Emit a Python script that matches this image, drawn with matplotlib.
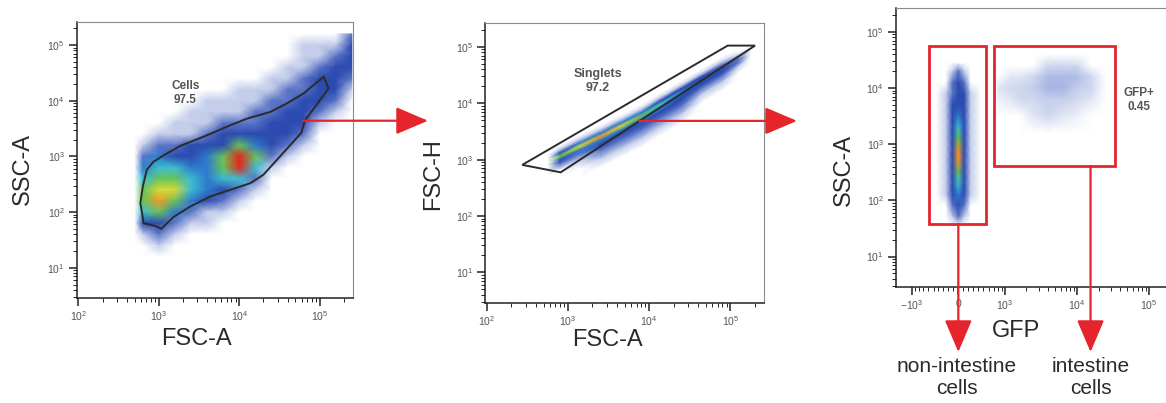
import numpy as np
import matplotlib.pyplot as plt
from matplotlib.colors import LinearSegmentedColormap
from matplotlib.patches import Polygon, Rectangle, ConnectionPatch
from matplotlib.transforms import blended_transform_factory

plt.rcParams['font.family'] = ['Liberation Sans', 'DejaVu Sans']
plt.rcParams['mathtext.fontset'] = 'custom'
plt.rcParams['mathtext.rm'] = 'Liberation Sans'
plt.rcParams['mathtext.it'] = 'Liberation Sans:italic'
plt.rcParams['mathtext.bf'] = 'Liberation Sans:bold'

# ---------------- data ----------------
# density levels: 0 = no events ... 9 = densest (red)

# panel 1: FSC-A (x) vs SSC-A (y), grid in log10 units
cells_logx = [2.7, 2.8, 3.0, 3.2, 3.4, 3.6, 3.8, 4.0, 4.2, 4.4, 4.6, 4.8, 5.0, 5.2, 5.4]
cells_logy = [5.2, 5.0, 4.8, 4.6, 4.4, 4.2, 4.0, 3.8, 3.6, 3.4, 3.2, 3.0, 2.8, 2.6,
              2.4, 2.2, 2.0, 1.8, 1.6, 1.4, 1.2]
cells_density = [
    [0, 0, 0, 0, 0, 0, 0, 0, 0, 0, 0, 0, 0, 0, 2],
    [0, 0, 0, 0, 0, 0, 0, 0, 0, 0, 0, 1, 1, 1, 3],
    [0, 0, 0, 0, 0, 0, 0, 0, 0, 0, 0, 1, 1, 2, 3],
    [0, 0, 0, 0, 0, 0, 0, 0, 0, 0, 1, 1, 2, 3, 3],
    [0, 0, 0, 0, 0, 0, 0, 0, 0, 1, 1, 2, 3, 3, 2],
    [0, 0, 0, 0, 0, 0, 0, 1, 1, 1, 2, 2, 3, 3, 1],
    [0, 0, 0, 0, 0, 1, 1, 1, 1, 2, 2, 3, 3, 2, 0],
    [0, 0, 0, 0, 1, 1, 1, 1, 2, 2, 3, 3, 2, 1, 0],
    [0, 0, 0, 1, 1, 1, 2, 2, 2, 3, 3, 3, 1, 0, 0],
    [0, 0, 1, 1, 1, 2, 3, 3, 3, 3, 3, 2, 0, 0, 0],
    [0, 1, 2, 2, 3, 3, 3, 6, 4, 3, 2, 1, 0, 0, 0],
    [0, 2, 4, 3, 3, 4, 6, 9, 6, 2, 1, 0, 0, 0, 0],
    [0, 4, 5, 5, 4, 4, 6, 9, 5, 1, 0, 0, 0, 0, 0],
    [0, 5, 6, 6, 5, 4, 5, 5, 2, 0, 0, 0, 0, 0, 0],
    [0, 6, 7, 7, 5, 4, 3, 2, 1, 0, 0, 0, 0, 0, 0],
    [0, 6, 8, 6, 4, 3, 2, 1, 0, 0, 0, 0, 0, 0, 0],
    [0, 5, 6, 4, 2, 1, 1, 0, 0, 0, 0, 0, 0, 0, 0],
    [0, 3, 3, 2, 1, 1, 0, 0, 0, 0, 0, 0, 0, 0, 0],
    [0, 1, 2, 1, 0, 0, 0, 0, 0, 0, 0, 0, 0, 0, 0],
    [0, 0, 1, 0, 0, 0, 0, 0, 0, 0, 0, 0, 0, 0, 0],
    [0, 0, 0, 0, 0, 0, 0, 0, 0, 0, 0, 0, 0, 0, 0],
]
cells_gate_logx = [5.05, 5.11, 4.82, 4.77, 4.52, 4.30, 4.14, 3.91, 3.64, 3.39, 3.18,
                   3.03, 2.96, 2.81, 2.77, 2.80, 2.85, 2.93, 3.06, 3.27, 3.60, 3.89,
                   4.10, 4.39, 4.59, 4.80]
cells_gate_logy = [4.43, 4.22, 3.65, 3.42, 3.02, 2.67, 2.52, 2.41, 2.28, 2.10, 1.91,
                   1.70, 1.75, 1.80, 2.16, 2.46, 2.76, 2.90, 3.02, 3.19, 3.38, 3.56,
                   3.68, 3.80, 3.95, 4.13]
cells_label = 'Cells\n97.5'
cells_label_pos = (2130, 13800)

# panel 2: FSC-A (x) vs FSC-H (y); density along the diagonal ridge
singlets_along_logx = [2.75, 2.9, 3.15, 3.4, 3.65, 3.9, 4.15, 4.4, 4.65, 4.9, 5.1, 5.25]
singlets_ridge_logy = [2.96, 3.06, 3.24, 3.41, 3.59, 3.77, 3.99, 4.20, 4.41, 4.62, 4.79, 4.92]
singlets_offset = [0.2, 0.12, 0.06, 0.0, -0.07, -0.14, -0.25, -0.4, -0.55]
singlets_density = [
    [0, 0, 0, 0, 0, 0, 0, 0, 0, 0, 0, 0],
    [0, 1, 1, 1, 1, 1, 1, 1, 1, 1, 0, 0],
    [0, 3, 4, 4, 4, 4, 3, 3, 3, 2, 1, 0],
    [0, 6, 7, 8, 7, 6, 5, 4, 3, 3, 2, 0],
    [0, 3, 4, 4, 4, 4, 4, 3, 3, 3, 2, 0],
    [0, 2, 2, 3, 3, 3, 3, 3, 2, 2, 1, 0],
    [0, 0, 1, 2, 2, 2, 2, 2, 1, 1, 0, 0],
    [0, 0, 0, 1, 1, 1, 1, 1, 0, 0, 0, 0],
    [0, 0, 0, 0, 0, 0, 0, 0, 0, 0, 0, 0],
]
singlets_gate_logx = [2.437, 2.910, 5.305, 4.968]
singlets_gate_logy = [2.907, 2.775, 5.023, 5.023]
singlets_label = 'Singlets\n97.2'
singlets_label_pos = (2330, 24700)

# panel 3: GFP (x, biexponential) vs SSC-A (y)
gfpneg_x = [-800, -450, -250, -120, 0, 120, 250, 450, 800]
gfpneg_logy = [4.45, 4.3, 4.1, 3.9, 3.7, 3.5, 3.3, 3.1, 2.9, 2.7, 2.5, 2.3, 2.1,
               1.9, 1.7, 1.55]
gfpneg_density = [
    [0, 0, 0, 0, 0, 0, 0, 0, 0],
    [0, 0, 0, 1, 2, 1, 0, 0, 0],
    [0, 0, 0, 2, 3, 2, 0, 0, 0],
    [0, 0, 1, 2, 3, 3, 1, 0, 0],
    [0, 0, 1, 3, 3, 3, 1, 0, 0],
    [0, 0, 1, 3, 4, 3, 1, 0, 0],
    [0, 0, 1, 3, 5, 3, 1, 0, 0],
    [0, 0, 1, 3, 6, 3, 1, 0, 0],
    [0, 0, 1, 3, 8, 3, 1, 0, 0],
    [0, 0, 1, 3, 8, 3, 1, 0, 0],
    [0, 0, 1, 3, 6, 3, 1, 0, 0],
    [0, 0, 1, 3, 5, 3, 1, 0, 0],
    [0, 0, 1, 3, 4, 3, 1, 0, 0],
    [0, 0, 0, 2, 3, 2, 0, 0, 0],
    [0, 0, 0, 1, 2, 1, 0, 0, 0],
    [0, 0, 0, 0, 0, 0, 0, 0, 0],
]
gfppos_x = [800, 1200, 1600, 2500, 4000, 6300, 10000, 16000, 25000]
gfppos_logy = [4.6, 4.4, 4.2, 4.0, 3.8, 3.5, 3.2]
gfppos_density = [
    [0, 0, 0, 0, 0, 0, 0, 0, 0],
    [0, 0, 0, 0, 0.8, 0.8, 0.8, 0, 0],
    [0, 0.5, 0.5, 0.8, 1.2, 1.2, 1.2, 0.8, 0],
    [0.5, 0.8, 0.8, 1.0, 1.3, 1.3, 1.0, 0.8, 0],
    [0.3, 0.5, 0.8, 0.8, 1.0, 1.0, 0.8, 0.5, 0],
    [0, 0, 0, 0.5, 0.8, 0.5, 0.3, 0, 0],
    [0, 0, 0, 0, 0, 0, 0, 0, 0],
]
neg_gate = (-577, 37.8, 548, 54800)     # x0, y0, x1, y1
pos_gate = (708, 409, 34300, 54800)
gfp_label = 'GFP+\n0.45'
gfp_label_pos = (73100, 6100)

log_ticks = [10, 100, 1000, 10000, 100000]
log_ticklabels = [r'$\mathregular{10^{%d}}$' % k for k in range(1, 6)]
gfp_ticks = [-1000, 0, 1000, 10000, 100000]
gfp_ticklabels = [r'$\mathregular{-10^{3}}$', '0', r'$\mathregular{10^{3}}$',
                  r'$\mathregular{10^{4}}$', r'$\mathregular{10^{5}}$']

# ---------------- drawing ----------------
flow_cmap = LinearSegmentedColormap.from_list('flowjo', [
    (0.0, '#ffffff'), (1 / 9, '#c3cdeb'), (2 / 9, '#5a73c6'), (3 / 9, '#2c4bb0'),
    (4 / 9, '#2e7ccc'), (5 / 9, '#3cbdd3'), (6 / 9, '#68c35a'), (7 / 9, '#d6dc36'),
    (8 / 9, '#f39a26'), (1.0, '#e3261b')])

W, H = 1166, 403
fig = plt.figure(figsize=(W / 100, H / 100), dpi=100)


def box(l, t, r, b):
    return [l / W, 1 - b / H, (r - l) / W, (b - t) / H]


def style(ax):
    ax.set_yscale('log')
    ax.set_ylim(2.9, 262144)
    ax.set_yticks(log_ticks, labels=log_ticklabels)
    ax.set_yticks([k * 10 ** n for n in range(0, 6) for k in range(2, 10)
                   if 2.9 < k * 10 ** n < 262144], minor=True)
    ax.tick_params(which='major', direction='out', length=5.5, width=1.1, color='#222222',
                   labelsize=7.5, labelcolor='#555555', pad=3)
    ax.tick_params(which='minor', direction='out', length=3, width=0.7, color='#222222')
    for s in ['top', 'right']:
        ax.spines[s].set_color('#8a8a8a')
        ax.spines[s].set_linewidth(0.8)
    for s in ['left', 'bottom']:
        ax.spines[s].set_color('#222222')
        ax.spines[s].set_linewidth(1.1)


def log_xaxis(ax):
    ax.set_xscale('log')
    ax.set_xlim(95, 262144)
    ax.set_xticks(log_ticks[1:], labels=log_ticklabels[1:])
    ax.set_xticks([k * 10 ** n for n in range(1, 6) for k in range(2, 10)
                   if 95 < k * 10 ** n < 262144], minor=True)


def density(ax, X, Y, C):
    ax.pcolormesh(X, Y, np.array(C, float), shading='gouraud', cmap=flow_cmap,
                  vmin=0, vmax=9, zorder=1, antialiased=False)


gate_kw = dict(fill=False, edgecolor='#2b2b2b', lw=1.4, zorder=3)
red = '#e5242b'

# panel 1
ax1 = fig.add_axes(box(76.7, 21.7, 353.3, 297.7))
X, Y = np.meshgrid(10 ** np.array(cells_logx), 10 ** np.array(cells_logy))
density(ax1, X, Y, cells_density)
ax1.add_patch(Polygon(np.column_stack([10 ** np.array(cells_gate_logx),
                                       10 ** np.array(cells_gate_logy)]), closed=True, **gate_kw))
ax1.text(*cells_label_pos, cells_label, ha='center', va='center', fontsize=8.5,
         fontweight='bold', color='#555555', linespacing=1.15, zorder=4)
log_xaxis(ax1)
style(ax1)

# panel 2
ax2 = fig.add_axes(box(485, 23.3, 764.3, 302.7))
along = np.array(singlets_along_logx)
ridge = np.array(singlets_ridge_logy)
offs = np.array(singlets_offset)
X2 = 10 ** np.tile(along, (len(offs), 1))
Y2 = 10 ** (ridge[None, :] + offs[:, None])
density(ax2, X2, Y2, singlets_density)
ax2.add_patch(Polygon(np.column_stack([10 ** np.array(singlets_gate_logx),
                                       10 ** np.array(singlets_gate_logy)]), closed=True, **gate_kw))
ax2.text(*singlets_label_pos, singlets_label, ha='center', va='center', fontsize=9,
         fontweight='bold', color='#555555', linespacing=1.15, zorder=4)
log_xaxis(ax2)
style(ax2)

# panel 3
ax3 = fig.add_axes(box(895.7, 8.3, 1179, 286.7))
ax3.set_xscale('symlog', linthresh=500, linscale=0.31)
X3, Y3 = np.meshgrid(np.array(gfpneg_x, float), 10 ** np.array(gfpneg_logy))
density(ax3, X3, Y3, gfpneg_density)
X4, Y4 = np.meshgrid(np.array(gfppos_x, float), 10 ** np.array(gfppos_logy))
density(ax3, X4, Y4, gfppos_density)
for g in [neg_gate, pos_gate]:
    ax3.add_patch(Rectangle((g[0], g[1]), g[2] - g[0], g[3] - g[1], fill=False,
                            edgecolor=red, lw=2.0, zorder=3))
ax3.text(*gfp_label_pos, gfp_label, ha='center', va='center', fontsize=8.5,
         fontweight='bold', color='#555555', linespacing=1.15, zorder=4)
ax3.set_xlim(-1675, 262144)
ax3.set_xticks(gfp_ticks, labels=gfp_ticklabels)
ax3.set_xticks([-k * 100 for k in range(1, 10)] + [k * 100 for k in range(1, 10)] +
               [k * 10 ** n for n in range(3, 6) for k in range(2, 10) if k * 10 ** n < 262144],
               minor=True)
style(ax3)

# axis titles
lab_kw = dict(fontsize=17, color='#2a2a2a', ha='center', va='center')
fig.text(23.3 / W, 1 - 169 / H, 'SSC-A', rotation=90, **lab_kw)
fig.text(196.7 / W, 1 - 339 / H, 'FSC-A', **lab_kw)
fig.text(433 / W, 1 - 174 / H, 'FSC-H', rotation=90, **lab_kw)
fig.text(607.5 / W, 1 - 340 / H, 'FSC-A', **lab_kw)
fig.text(843.5 / W, 1 - 170 / H, 'SSC-A', rotation=90, **lab_kw)
fig.text(1016 / W, 1 - 331 / H, 'GFP', **lab_kw)
fig.text(956.7 / W, 1 - 378 / H, 'non-intestine\ncells', fontsize=15, color='#2a2a2a',
         ha='center', va='center', linespacing=1.2)
fig.text(1090.7 / W, 1 - 378 / H, 'intestine\ncells', fontsize=15, color='#2a2a2a',
         ha='center', va='center', linespacing=1.2)

# red arrows
arrow_kw = dict(arrowstyle='-|>,head_length=20,head_width=8.5', mutation_scale=1,
                color=red, lw=1.6, shrinkA=0, shrinkB=0, zorder=10)
fig.add_artist(ConnectionPatch((6.3e4, 4370), (428 / W, 4370), coordsA=ax1.transData,
                               coordsB=blended_transform_factory(fig.transFigure, ax1.transData),
                               **arrow_kw))
fig.add_artist(ConnectionPatch((7.5e3, 4870), (797 / W, 4870), coordsA=ax2.transData,
                               coordsB=blended_transform_factory(fig.transFigure, ax2.transData),
                               **arrow_kw))
fig.add_artist(ConnectionPatch((0, neg_gate[1]), (0, 1 - 352 / H), coordsA=ax3.transData,
                               coordsB=blended_transform_factory(ax3.transData, fig.transFigure),
                               **arrow_kw))
fig.add_artist(ConnectionPatch((1.55e4, pos_gate[1]), (1.55e4, 1 - 352 / H), coordsA=ax3.transData,
                               coordsB=blended_transform_factory(ax3.transData, fig.transFigure),
                               **arrow_kw))

fig.savefig('out.png', dpi=100)
